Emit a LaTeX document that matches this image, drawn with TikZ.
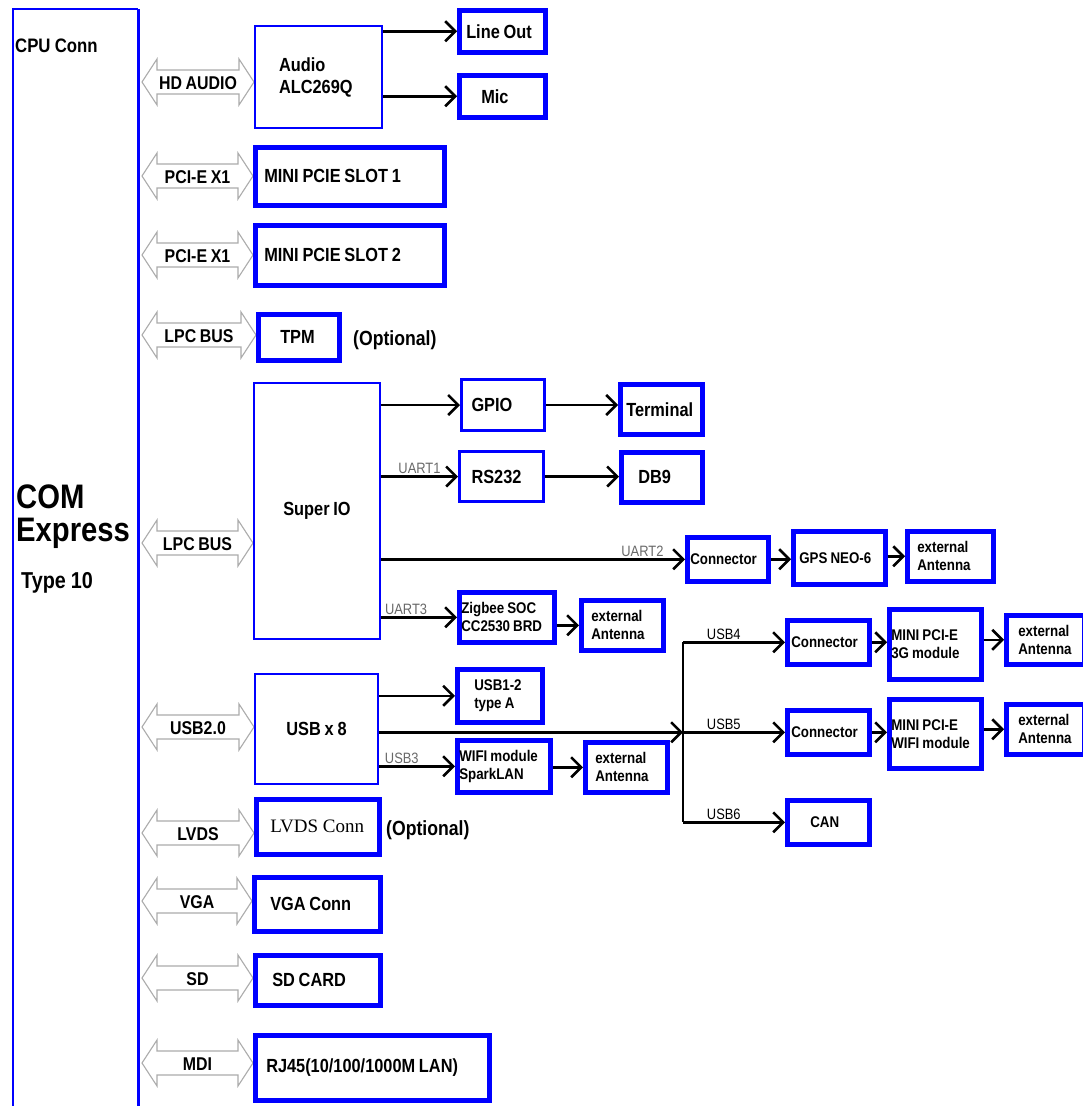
\documentclass[tikz,border=0pt]{standalone}
\usepackage{fontspec}
\setmainfont{Liberation Sans}[FakeStretch=0.86]
\newfontfamily\lvdsfont{Liberation Serif}
\usetikzlibrary{arrows.meta,calc}
\definecolor{bblue}{RGB}{0,0,255}
\definecolor{lblgray}{RGB}{105,105,105}
\newcommand\FBig{\fontsize{19}{22}\selectfont\bfseries\spaceskip=0.2em\relax}
\newcommand\FSm{\fontsize{15.5}{18}\selectfont\bfseries\spaceskip=0.2em\relax}
\newcommand\FBus{\fontsize{18.5}{20}\selectfont\bfseries\spaceskip=0.2em\relax}
\newcommand\FLbl{\fontsize{15}{17}\selectfont}
\newcommand\FOpt{\fontsize{20.5}{22}\selectfont\bfseries}
\newcommand\FCpu{\fontsize{19.5}{22}\selectfont\bfseries\spaceskip=0.22em\relax}
\newcommand\FCom{\fontsize{34}{40}\selectfont\bfseries}
\newcommand\FTyp{\fontsize{23}{25}\selectfont\bfseries\spaceskip=0.22em\relax}
\newcommand\FLvds{\fontsize{19}{22}\selectfont\lvdsfont}
\tikzset{
  boxbase/.style={draw=bblue, fill=white, anchor=north west, inner ysep=0pt, align=flush left},
  thinbox/.style={boxbase, line width=2pt},
  medbox/.style={boxbase, line width=3pt},
  thickbox/.style={boxbase, line width=4.5pt},
  conn/.style={line width=2.5pt, -{Straight Barb[length=10pt,width=20pt,line width=2.5pt]}},
  lbl/.style={font=\FLbl, text=lblgray, inner sep=1.5pt},
  blbl/.style={font=\FLbl, text=black, inner sep=1.5pt},
  busline/.style={draw=gray!65, line width=1.1pt, fill=white},
  buslbl/.style={font=\FBus, inner sep=0pt},
}
% #1 name, #2 y, #3 x left, #4 x right, #5 label
\newcommand\busarrow[5]{%
  \draw[busline] (#3,#2) -- (#3+15,#2-23) -- (#3+15,#2-12) -- (#4-15,#2-12)
    -- (#4-15,#2-23) -- (#4,#2) -- (#4-15,#2+23) -- (#4-15,#2+12)
    -- (#3+15,#2+12) -- (#3+15,#2+23) -- cycle;
  \node[buslbl] (#1) at ({(#3+#4)/2},#2+1) {#5};}
\begin{document}
\begin{tikzpicture}[x=1pt,y=-1pt]
\useasboundingbox (0,0) rectangle (1083,1106);
\fill[white] (0,0) rectangle (1083,1106);

% CPU connector block
\node[minimum width=125pt, minimum height=1097pt, anchor=north west, inner sep=0pt] (cpu) at (13,9) {};
\draw[bblue, line width=2pt] (cpu.south west) -- (cpu.north west) -- (cpu.north east);
\draw[bblue, line width=3.5pt] (cpu.north east) -- (cpu.south east);
\node[font=\FCpu, anchor=west, inner sep=0pt] (cpuconn) at (15,46) {CPU Conn};
\node[font=\FCom, anchor=base west, inner sep=0pt] (com) at (16,508) {COM};
\node[font=\FCom, anchor=base west, inner sep=0pt] (express) at (16,541) {Express};
\node[font=\FTyp, anchor=base west, inner sep=0pt] (type) at (21,588) {Type 10};

% bus arrows
\busarrow{b1}{82}{142}{254}{HD AUDIO}
\busarrow{b2}{176}{142}{253}{PCI-E X1}
\busarrow{b3}{255}{142}{253}{PCI-E X1}
\busarrow{b4}{335}{142}{256}{LPC BUS}
\busarrow{b5}{543}{142}{253}{LPC BUS}
\busarrow{b6}{727}{142}{254}{USB2.0}
\busarrow{b7}{833}{142}{254}{LVDS}
\busarrow{b8}{901}{142}{252}{VGA}
\busarrow{b9}{978}{142}{253}{SD}
\busarrow{b10}{1063}{142}{253}{MDI}

% boxes
\node[thinbox, font=\FBig, text width=79pt, inner xsep=24pt, minimum height=102pt] (audio) at (254,25) {Audio\\ALC269Q};
\node[thickbox, font=\FBig, text width=72pt, inner xsep=7pt, minimum height=42pt] (lineout) at (457,8) {\mbox{Line Out}};
\node[thickbox, font=\FBig, text width=42pt, inner xsep=22pt, minimum height=42pt] (mic) at (457,73) {Mic};
\node[thickbox, font=\FBig, text width=171pt, inner xsep=9pt, minimum height=58pt] (slot1) at (253,145) {\mbox{MINI PCIE SLOT 1}};
\node[thickbox, font=\FBig, text width=171pt, inner xsep=9pt, minimum height=60pt] (slot2) at (253,223) {\mbox{MINI PCIE SLOT 2}};
\node[thickbox, font=\FBig, text width=37pt, inner xsep=22pt, minimum height=46pt] (tpm) at (256,312) {TPM};
\node[font=\FOpt, anchor=west, inner sep=0pt] (opt1) at (353,340) {(Optional)};

\node[thinbox, font=\FBig, align=center, minimum width=126pt, minimum height=256pt, inner sep=0pt] (superio) at (253,382) {Super IO};
\node[medbox, font=\FBig, text width=63pt, inner xsep=10pt, minimum height=51pt] (gpio) at (460,378) {GPIO};
\node[thickbox, font=\FBig, text width=70pt, inner xsep=6pt, minimum height=50pt] (terminal) at (618,382) {Terminal};
\node[medbox, font=\FBig, text width=60pt, inner xsep=12pt, minimum height=50pt] (rs232) at (458,450) {RS232};
\node[thickbox, font=\FBig, text width=47pt, inner xsep=17pt, minimum height=50pt] (db9) at (619,450) {DB9};
\node[thickbox, font=\FSm, text width=75pt, inner xsep=3pt, minimum height=44pt] (conn1) at (685,535) {Connector};
\node[thickbox, font=\FSm, text width=80pt, inner xsep=6pt, minimum height=53pt] (gps) at (791,529) {\mbox{GPS NEO-6}};
\node[thickbox, font=\FSm, text width=66pt, inner xsep=10pt, minimum height=50pt] (ant1) at (905,529) {external\\Antenna};
\node[thickbox, font=\FSm, text width=91pt, inner xsep=2pt, minimum height=50pt] (zigbee) at (457,590) {\mbox{Zigbee SOC}\\\mbox{CC2530 BRD}};
\node[thickbox, font=\FSm, text width=62pt, inner xsep=10pt, minimum height=50pt] (ant2) at (579,598) {external\\Antenna};

\node[thinbox, font=\FBig, align=center, minimum width=123pt, minimum height=110pt, inner sep=0pt] (usb8) at (254,673) {USB x 8};
\node[thickbox, font=\FSm, text width=51pt, inner xsep=17pt, minimum height=53pt] (usb12) at (455,667) {USB1-2\\\mbox{type A}};
\node[thickbox, font=\FSm, text width=89pt, inner xsep=2pt, minimum height=52pt] (wifi) at (455,738) {\mbox{WIFI module}\\SparkLAN};
\node[thickbox, font=\FSm, text width=62pt, inner xsep=10pt, minimum height=50pt] (ant3) at (583,740) {external\\Antenna};
\node[thickbox, font=\FSm, text width=74pt, inner xsep=4pt, minimum height=44pt] (conn2) at (785,618) {Connector};
\node[thickbox, font=\FSm, text width=74pt, inner xsep=4pt, minimum height=44pt] (conn3) at (785,708) {Connector};
\node[thickbox, font=\FSm, text width=36pt, inner xsep=23pt, minimum height=44pt] (can) at (785,798) {CAN};
\node[thickbox, font=\FSm, text width=88pt, inner xsep=2pt, minimum height=70pt] (pci3g) at (887,607) {\mbox{MINI PCI-E}\\\mbox{3G module}};
\node[thickbox, font=\FSm, text width=88pt, inner xsep=2pt, minimum height=69pt] (pciwifi) at (887,697) {\mbox{MINI PCI-E}\\\mbox{WIFI module}};
\node[thickbox, font=\FSm, text width=54pt, inner xsep=12pt, minimum height=49pt] (ant4) at (1004,613) {external\\Antenna};
\node[thickbox, font=\FSm, text width=54pt, inner xsep=12pt, minimum height=50pt] (ant5) at (1004,702) {external\\Antenna};

\node[thickbox, font=\FLvds, text width=95pt, inner xsep=14pt, minimum height=55pt] (lvds) at (254,797) {\mbox{LVDS Conn}};
\node[font=\FOpt, anchor=west, inner sep=0pt] (opt2) at (386,830) {(Optional)};
\node[thickbox, font=\FBig, text width=94pt, inner xsep=16pt, minimum height=54pt] (vga) at (252,875) {\mbox{VGA Conn}};
\node[thickbox, font=\FBig, text width=91pt, inner xsep=17pt, minimum height=50pt] (sd) at (253,953) {\mbox{SD CARD}};
\node[thickbox, font=\FBig, text width=212pt, inner xsep=11pt, minimum height=65pt] (rj45) at (253,1033) {\mbox{RJ45(10/100/1000M LAN)}};

% junction points of the USB fan-out
\coordinate (jt) at (683,0 |- conn2.west);
\coordinate (jm) at (683,0 |- conn3.west);
\coordinate (jb) at (683,0 |- can.west);

% connectors
\draw[conn] (audio.east |- lineout.west) -- (lineout.west);
\draw[conn] (audio.east |- mic.west) -- (mic.west);
\draw[conn] (superio.east |- gpio.west) -- (gpio.west);
\draw[conn] (gpio.east) -- (gpio.east -| terminal.west);
\draw[conn] (superio.east |- rs232.west) -- node[lbl, above, pos=0.5] {UART1} (rs232.west);
\draw[conn] (rs232.east) -- (rs232.east -| db9.west);
\draw[conn] (superio.east |- conn1.west) -- node[lbl, above, pos=0.86] {UART2} (conn1.west);
\draw[conn] (conn1.east) -- (conn1.east -| gps.west);
\draw[conn] (gps.east |- ant1.west) -- (ant1.west);
\draw[conn] (superio.east |- zigbee.west) -- node[lbl, above, pos=0.33] {UART3} (zigbee.west);
\draw[conn] (zigbee.east |- ant2.west) -- (ant2.west);
\draw[conn] (usb8.east |- usb12.west) -- (usb12.west);
\draw[conn] (usb8.east |- jm) -- (jm);
\draw[line width=2.5pt] (jt) -- (jb);
\draw[conn] (jt) -- node[blbl, above, pos=0.4] {USB4} (conn2.west);
\draw[conn] (jm) -- node[blbl, above, pos=0.4] {USB5} (conn3.west);
\draw[conn] (jb) -- node[blbl, above, pos=0.4] {USB6} (can.west);
\draw[conn] (usb8.east |- wifi.west) -- node[lbl, above, pos=0.3] {USB3} (wifi.west);
\draw[conn] (wifi.east |- ant3.west) -- (ant3.west);
\draw[conn] (conn2.east) -- (conn2.east -| pci3g.west);
\draw[conn] (conn3.east) -- (conn3.east -| pciwifi.west);
\draw[conn] (pci3g.east |- ant4.west) -- (ant4.west);
\draw[conn] (pciwifi.east |- ant5.west) -- (ant5.west);
\end{tikzpicture}
\end{document}
